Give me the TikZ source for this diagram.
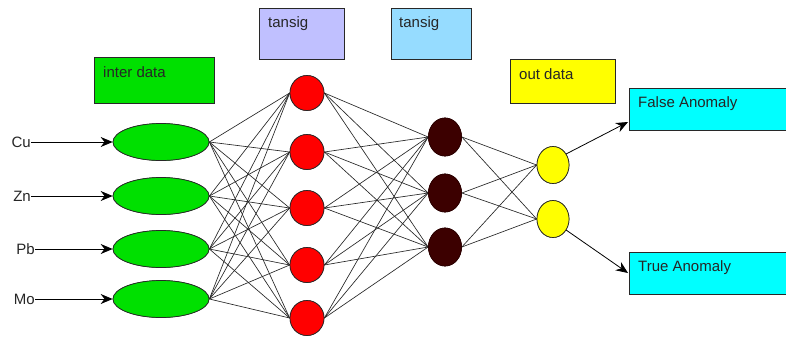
\documentclass[tikz,border=0pt]{standalone}
\usepackage{fontspec}
\setmainfont{Liberation Sans}
\usetikzlibrary{arrows.meta,calc,shapes.geometric}
\definecolor{gr}{RGB}{0,224,0}
\definecolor{lav}{RGB}{192,192,255}
\definecolor{lbl}{RGB}{150,220,255}
\definecolor{dk}{RGB}{60,0,0}
\definecolor{edge}{RGB}{40,40,40}
\definecolor{cy}{RGB}{0,255,255}
\definecolor{ye}{RGB}{255,255,0}
\definecolor{rd}{RGB}{255,0,0}
\tikzset{
  box/.style={draw=edge, line width=0.8pt, rectangle, inner sep=0pt, anchor=north west},
  txt/.style={font=\fontsize{15}{18}\selectfont, anchor=west, inner sep=0pt, text=black!85},
  inell/.style={ellipse, draw=edge, line width=0.7pt, fill=gr, minimum width=96pt, minimum height=37pt, inner sep=0pt},
  redn/.style={ellipse, draw=edge, line width=0.7pt, fill=rd, minimum width=34pt, minimum height=35pt, inner sep=0pt},
  dkn/.style={ellipse, draw=dk!70!black, line width=0.7pt, fill=dk, minimum width=33pt, minimum height=38pt, inner sep=0pt},
  yen/.style={ellipse, draw=edge, line width=0.7pt, fill=ye, minimum width=32pt, minimum height=37pt, inner sep=0pt},
  conn/.style={draw=black!85, line width=0.65pt},
  arr/.style={draw=black, line width=0.8pt, -{Stealth[length=12pt,width=10pt]}}
}
\begin{document}
\begin{tikzpicture}[x=1pt,y=-1pt]
\path[use as bounding box, fill=white] (0,0) rectangle (786,338);
% boxes
\node[box, fill=gr, minimum width=120pt, minimum height=46pt] (bint) at (94,57) {};
\node[txt] (tint) at (103,72) {inter data};
\node[box, fill=lav, minimum width=85pt, minimum height=51pt] (bt1) at (259,8) {};
\node[txt] (tt1) at (268,24) {tansig};
\node[box, fill=lbl, minimum width=80pt, minimum height=51pt] (bt2) at (391,8) {};
\node[txt] (tt2) at (399,24) {tansig};
\node[box, fill=ye, minimum width=105pt, minimum height=44pt] (bout) at (510,59) {};
\node[txt] (tout) at (519,74) {out data};
\node[box, fill=cy, minimum width=158pt, minimum height=42pt] (bfa) at (629,88) {};
\node[txt] (tfa) at (638,104) {False Anomaly};
\node[box, fill=cy, minimum width=158pt, minimum height=42pt] (bta) at (629,252) {};
\node[txt] (tta) at (638,268) {True Anomaly};
% input ellipses
\foreach \i/\y in {1/142,2/196,3/249,4/299} \node[inell] (e\i) at (161,\y) {};
% red
\foreach \i/\y in {1/93,2/152,3/208,4/265,5/318} \node[redn] (r\i) at (307,\y) {};
% dark
\foreach \i/\y in {1/137,2/193,3/247} \node[dkn] (d\i) at (445,\y) {};
% yellow
\node[yen] (y1) at (553,165) {};
\node[yen] (y2) at (553,219) {};
% input labels
\node[txt, anchor=east] (lcu) at (31,142) {Cu};
\node[txt, anchor=east] (lzn) at (31,196) {Zn};
\node[txt, anchor=east] (lpb) at (35,249) {Pb};
\node[txt, anchor=east] (lmo) at (35,299) {Mo};
\draw[arr] (lcu.east) -- (e1.west);
\draw[arr] (lzn.east) -- (e2.west);
\draw[arr] (lpb.east) -- (e3.west);
\draw[arr] (lmo.east) -- (e4.west);
% connections
\foreach \i in {1,...,4} \foreach \j in {1,...,5} \draw[conn] (e\i.east) -- (r\j.west);
\foreach \i in {1,...,5} \foreach \j in {1,...,3} \draw[conn] (r\i.east) -- (d\j.west);
\foreach \i in {1,...,3} \foreach \j in {1,2} \draw[conn] (d\i.east) -- (y\j.west);
% redraw nodes over lines
\foreach \i/\y in {1/142,2/196,3/249,4/299} \node[inell] at (161,\y) {};
\foreach \i/\y in {1/93,2/152,3/208,4/265,5/318} \node[redn] at (307,\y) {};
\foreach \i/\y in {1/137,2/193,3/247} \node[dkn] at (445,\y) {};
\node[yen] at (553,165) {};
\node[yen] at (553,219) {};
% outputs
\coordinate (fatip) at (628,122);
\coordinate (tatip) at (628,273);
\draw[arr] (y1.40) -- (fatip);
\draw[arr] (y2.-40) -- (tatip);
\end{tikzpicture}
\end{document}
